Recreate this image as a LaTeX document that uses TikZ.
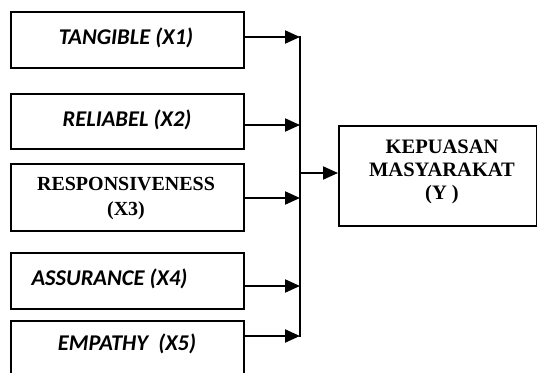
\documentclass[tikz,border=0pt]{standalone}
\usepackage{fontspec}
\setmainfont{Liberation Serif}
\newfontfamily\calib{Carlito}
\usetikzlibrary{arrows.meta}
\begin{document}
\begin{tikzpicture}[x=1pt,y=-1pt,
  box/.style={draw,line width=1.5pt,minimum width=233pt,anchor=north west,inner sep=0pt},
  lbl/.style={font=\calib\bfseries\itshape\fontsize{22.5}{24}\selectfont},
  tms/.style={font=\bfseries\fontsize{20}{25}\selectfont,align=center},
  arr/.style={line width=2pt,-{Triangle[length=15pt,width=13pt]}}]
\useasboundingbox (0,0) rectangle (537,372);
\node[box,minimum height=56pt] (b1) at (10,11) {};
\node[box,minimum height=55pt] (b2) at (10,93) {};
\node[box,minimum height=67pt] (b3) at (10,163) {};
\node[box,minimum height=56pt] (b4) at (10,252) {};
\node[box,minimum height=56pt] (b5) at (10,320) {};
\node[draw,line width=1.5pt,anchor=north west,minimum width=198pt,minimum height=100pt,inner sep=0pt] (y) at (338,125) {};
\node[lbl] (t1) at (126,38) {TANGIBLE (X1)};
\node[lbl] (t2) at (127,120) {RELIABEL (X2)};
\node[tms] (t3) at (126,199) {RESPONSIVENESS\\(X3)};
\node[lbl,anchor=west] (t4) at (28,279) {ASSURANCE (X4)};
\node[lbl] (t5) at (127,344) {EMPATHY\ \ (X5)};
\node[tms,font=\bfseries\fontsize{20.5}{23}\selectfont] (ty) at (442,172) {KEPUASAN\\MASYARAKAT\\(Y )};
\coordinate (top) at (300,36);
\coordinate (bot) at (300,337);
\coordinate (a1) at (300,37);
\coordinate (a2) at (300,125);
\coordinate (a3) at (300,198);
\coordinate (a4) at (300,286);
\coordinate (a5) at (300,336);
\coordinate (ay) at (300,173);
\draw[line width=1.5pt] (top) -- (bot);
\draw[arr] (b1.east |- a1) -- (a1);
\draw[arr] (b2.east |- a2) -- (a2);
\draw[arr] (b3.east |- a3) -- (a3);
\draw[arr] (b4.east |- a4) -- (a4);
\draw[arr] (b5.east |- a5) -- (a5);
\draw[arr] (ay) -- (y.west |- ay);
\end{tikzpicture}
\end{document}
